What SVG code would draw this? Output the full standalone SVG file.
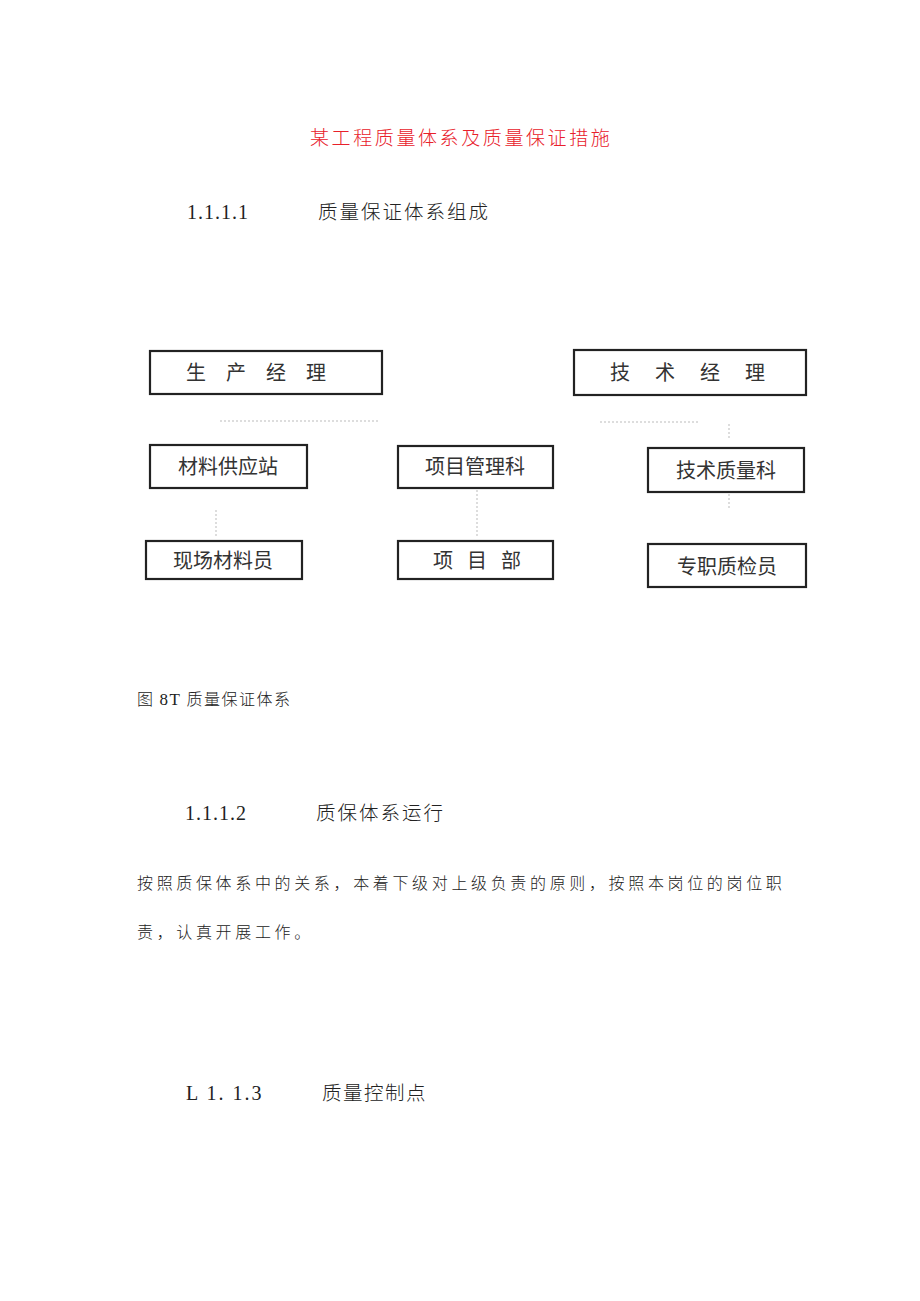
<svg xmlns="http://www.w3.org/2000/svg" width="920" height="1301" viewBox="0 0 920 1301">
<style>
.doc{font-family:"Liberation Serif","Noto Sans CJK SC",serif;fill:#222;}
.cjk{font-family:"Noto Sans CJK SC",sans-serif;fill:#222;font-weight:300;}
.box rect{fill:none;stroke:#222;stroke-width:2.2;}
.box text{font-family:"Noto Sans CJK SC",sans-serif;font-size:20px;fill:#333;text-anchor:middle;}
.conn line{stroke:#bbb;stroke-width:1;stroke-dasharray:2 2;}
</style>
<rect width="920" height="1301" fill="#fff"/>
<text x="310" y="145" font-family="Noto Sans CJK SC,sans-serif" font-weight="300" font-size="19" letter-spacing="2.6" fill="#e8202a">某工程质量体系及质量保证措施</text>
<text class="doc" x="187" y="219" font-size="20" letter-spacing="1">1.1.1.1</text>
<text class="cjk" x="318" y="219" font-size="19.5" letter-spacing="2">质量保证体系组成</text>
<g class="conn" id="connectors">
<line x1="220" y1="421" x2="380" y2="421"/>
<line x1="216" y1="510" x2="216" y2="538"/>
<line x1="477" y1="490" x2="477" y2="538"/>
<line x1="600" y1="422" x2="700" y2="422"/>
<line x1="729" y1="424" x2="729" y2="440"/>
<line x1="729" y1="494" x2="729" y2="508"/>
</g>
<g class="box" id="n1"><rect x="150" y="351" width="232" height="43"/><text x="266" y="380" letter-spacing="20">生产经理</text></g>
<g class="box" id="n2"><rect x="150" y="445" width="157" height="43"/><text x="228" y="474" font-size="21">材料供应站</text></g>
<g class="box" id="n3"><rect x="146" y="541" width="156" height="38"/><text x="223" y="568" font-size="21">现场材料员</text></g>
<g class="box" id="n4"><rect x="398" y="446" width="155" height="42"/><text x="475" y="474" font-size="21">项目管理科</text></g>
<g class="box" id="n5"><rect x="398" y="541" width="155" height="38"/><text x="484" y="568" letter-spacing="14">项目部</text></g>
<g class="box" id="n6"><rect x="574" y="350" width="232" height="45"/><text x="700" y="380" letter-spacing="25">技术经理</text></g>
<g class="box" id="n7"><rect x="648" y="448" width="156" height="44"/><text x="726" y="478" font-size="21">技术质量科</text></g>
<g class="box" id="n8"><rect x="648" y="544" width="158" height="43"/><text x="727" y="574" font-size="21">专职质检员</text></g>
<text class="cjk" x="137" y="705" font-size="16" letter-spacing="1.5">图 <tspan class="doc" font-size="17">8T</tspan> 质量保证体系</text>
<text class="doc" x="185" y="820" font-size="20" letter-spacing="1">1.1.1.2</text>
<text class="cjk" x="316" y="820" font-size="19.5" letter-spacing="2">质保体系运行</text>
<text class="cjk" x="137" y="889" font-size="16" letter-spacing="3.65">按照质保体系中的关系，本着下级对上级负责的原则，按照本岗位的岗位职</text>
<text class="cjk" x="137" y="938" font-size="16" letter-spacing="3.65">责，认真开展工作。</text>
<text class="doc" x="186" y="1100" font-size="20" letter-spacing="2" xml:space="preserve">L 1. 1.3</text>
<text class="cjk" x="322" y="1100" font-size="19.5" letter-spacing="1.5">质量控制点</text>
</svg>
